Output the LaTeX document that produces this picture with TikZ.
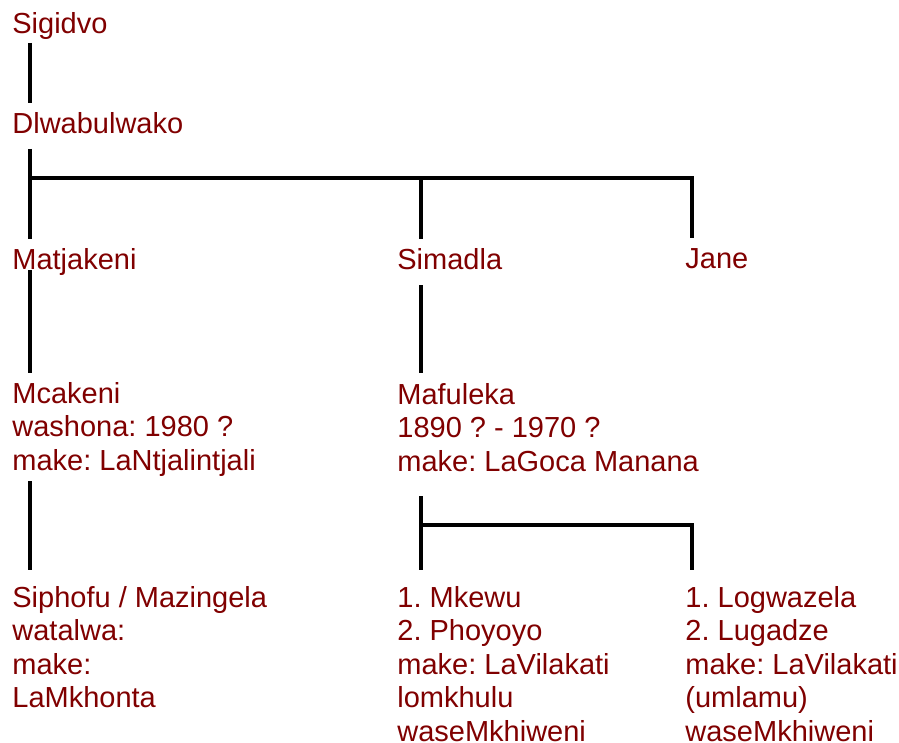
\documentclass[tikz,border=0pt]{standalone}
\usepackage{fontspec}
\setmainfont{Liberation Sans}
\usepackage{tikz,xcolor}
\usetikzlibrary{calc}
\definecolor{kinred}{HTML}{800000}
\frenchspacing
\tikzset{
  % style for the names
  person/.style={anchor=north west, inner sep=0pt, align=left, text=kinred,
    font=\fontsize{14.5}{16.75}\selectfont},
  % style for the family lines
  link/.style={black, line width=2pt},
}

\begin{document}
\begin{tikzpicture}[x=0.5pt, y=0.5pt]
  \useasboundingbox (0,0) rectangle (899,-743);
  % Draw the names
  \node[person] (sigidvo) at (12,-12) {Sigidvo};
  \node[person] (dlwabulwako) at (12,-112) {Dlwabulwako};
  \node[person] (matjakeni) at (12,-248) {Matjakeni};
  \node[person] (simadla) at (397,-248) {Simadla};
  \node[person] (jane) at (685,-248) {Jane};
  \node[person] (mcakeni) at (12,-382) {Mcakeni\\washona: 1980 ?\\make: LaNtjalintjali};
  \node[person] (mafuleka) at (397,-383) {Mafuleka\\1890 ? - 1970 ?\\make: LaGoca Manana};
  \node[person] (siphofu) at (12,-586) {Siphofu / Mazingela\\watalwa:\\make:\\LaMkhonta};
  \node[person] (mkewu) at (397,-586) {1. Mkewu\\2. Phoyoyo\\make: LaVilakati\\lomkhulu\\waseMkhiweni};
  \node[person] (logwazela) at (685,-586) {1. Logwazela\\2. Lugadze\\make: LaVilakati\\(umlamu)\\waseMkhiweni};
  % Draw the lines
  \draw[link] ($(sigidvo.north west)+(18,-31)$) -- ($(dlwabulwako.north west)+(18,9)$);
  \draw[link] ($(dlwabulwako.north west)+(18,-37)$) -- ($(matjakeni.north west)+(18,9)$);
  \coordinate (bar1) at ($(dlwabulwako.north west)+(18,-66)$);
  \draw[link] (bar1) -| ($(jane.north west)+(7,10)$);
  \draw[link] (bar1) -| ($(simadla.north west)+(24,9)$);
  \draw[link] ($(matjakeni.north west)+(18,-22)$) -- ($(mcakeni.north west)+(18,9)$);
  \draw[link] ($(simadla.north west)+(24,-37)$) -- ($(mafuleka.north west)+(24,10)$);
  \draw[link] ($(mcakeni.north west)+(18,-99)$) -- ($(siphofu.north west)+(18,16)$);
  \draw[link] ($(mafuleka.north west)+(24,-113)$) -- ($(mkewu.north west)+(24,16)$);
  \draw[link] ($(mafuleka.north west)+(24,-142)$) -| ($(logwazela.north west)+(7,16)$);
\end{tikzpicture}
\end{document}
